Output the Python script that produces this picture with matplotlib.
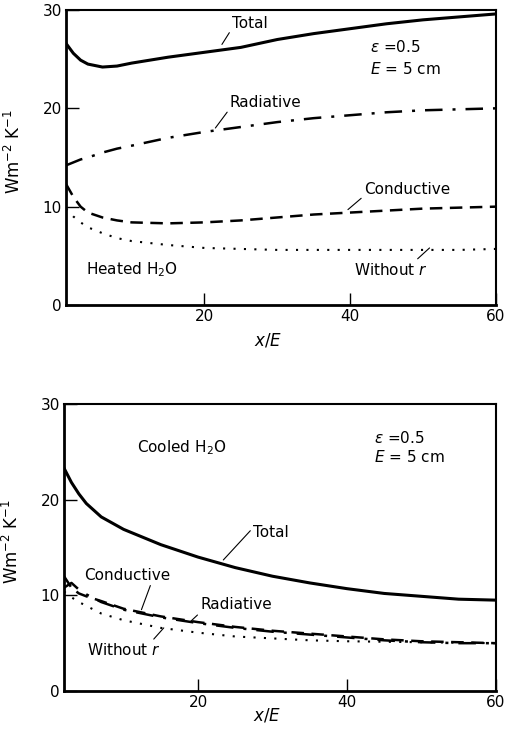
import numpy as np
import matplotlib
matplotlib.use("Agg")
import matplotlib.pyplot as plt

plt.rcParams['font.family'] = ['DejaVu Sans']
plt.rcParams['mathtext.fontset'] = 'dejavusans'

# heated water, x/E vs heat transfer coefficient
hx = [1, 2, 3, 4, 6, 8, 10, 15, 20, 25, 30, 35, 40, 45, 50, 55, 60]
h_total = [26.6, 25.6, 24.9, 24.5, 24.2, 24.3, 24.6, 25.2, 25.7, 26.2, 27.0, 27.6, 28.1, 28.6, 29.0, 29.3, 29.6]
h_rad = [14.2, 14.5, 14.8, 15.0, 15.5, 15.9, 16.2, 17.0, 17.6, 18.1, 18.6, 19.0, 19.3, 19.6, 19.8, 19.9, 20.0]
h_cond = [12.3, 11.0, 10.0, 9.4, 8.9, 8.6, 8.4, 8.3, 8.4, 8.6, 8.9, 9.2, 9.4, 9.6, 9.8, 9.9, 10.0]
h_nor = [9.8, 9.0, 8.4, 7.9, 7.3, 6.8, 6.5, 6.1, 5.8, 5.7, 5.6, 5.6, 5.6, 5.6, 5.6, 5.6, 5.7]

# cooled water
cx = [2, 3, 4, 5, 7, 10, 15, 20, 25, 30, 35, 40, 45, 50, 55, 60]
c_total = [23.3, 21.8, 20.6, 19.6, 18.2, 16.9, 15.3, 14.0, 12.9, 12.0, 11.3, 10.7, 10.2, 9.9, 9.6, 9.5]
c_cond = [12.0, 10.8, 10.2, 9.9, 9.4, 8.6, 7.8, 7.2, 6.7, 6.3, 6.0, 5.7, 5.4, 5.2, 5.1, 5.0]
c_rad = [10.8, 11.3, 10.6, 10.1, 9.3, 8.5, 7.7, 7.1, 6.6, 6.2, 5.9, 5.6, 5.3, 5.1, 5.0, 5.0]
c_nor = [10.4, 9.8, 9.3, 8.9, 8.1, 7.4, 6.6, 6.1, 5.7, 5.5, 5.3, 5.2, 5.15, 5.1, 5.05, 5.0]

yticks = [0, 10, 20, 30]
xticks = [20, 40, 60]

fig = plt.figure(figsize=(5.08, 7.31), dpi=100)
ax1 = fig.add_axes([0.130, 0.5828, 0.846, 0.4035])
ax2 = fig.add_axes([0.126, 0.0547, 0.850, 0.3926])

dash = (0, (5, 3))
dashdot = (0, (7, 4, 1.2, 4))
dot = (0, (1, 4))

ax1.plot(hx, h_total, color='k', lw=2.2, ls='-')
ax1.plot(hx, h_rad, color='k', lw=1.8, ls=dashdot)
ax1.plot(hx, h_cond, color='k', lw=1.8, ls=dash)
ax1.plot(hx, h_nor, color='k', lw=1.5, ls=dot)

ax2.plot(cx, c_total, color='k', lw=2.2, ls='-')
ax2.plot(cx, c_cond, color='k', lw=1.8, ls=dash)
ax2.plot(cx, c_rad, color='k', lw=1.8, ls=dashdot)
ax2.plot(cx, c_nor, color='k', lw=1.5, ls=dot)

for ax, x0, xl_y in ((ax1, 1, -0.09), (ax2, 2, -0.055)):
    ax.set_xlim(x0, 60)
    ax.set_ylim(0, 30)
    ax.set_yticks(yticks)
    ax.set_xticks(xticks)
    ax.tick_params(direction='in', length=9, width=1, labelsize=11, pad=3)
    for s in ('left', 'bottom'):
        ax.spines[s].set_linewidth(2)
    for s in ('top', 'right'):
        ax.spines[s].set_linewidth(1.5)
    ax.set_xlabel('$x/E$', fontsize=12)
    ax.xaxis.set_label_coords(0.47, xl_y)
    ax.set_ylabel('Wm$^{-2}$ K$^{-1}$', fontsize=12)
    ax.yaxis.set_label_coords(-0.097, 0.52)

fs = 11
lw = 0.8

def label(ax, text, xy, xytext, rel=(0, 0)):
    ax.annotate(text, xy=xy, xytext=xytext, fontsize=fs, va='center', ha='left',
                arrowprops=dict(arrowstyle='-', lw=lw, color='k', shrinkA=0, shrinkB=0,
                                relpos=rel))

label(ax1, 'Total', (22.4, 26.5), (23.8, 28.6), (0, 0.2))
label(ax1, 'Radiative', (21.5, 18.0), (23.5, 20.6), (0, 0.1))
label(ax1, 'Conductive', (39.7, 9.7), (41.9, 11.7), (0, 0.1))
label(ax1, 'Without $r$', (50.9, 5.8), (40.5, 3.6), (0.8, 0.9))
ax1.text(3.8, 3.6, 'Heated H$_2$O', fontsize=fs, va='center')
ax1.text(42.7, 26.2, '$\\epsilon$ =0.5', fontsize=fs, va='center')
ax1.text(42.7, 24.0, '$E$ = 5 cm', fontsize=fs, va='center')

label(ax2, 'Total', (23.4, 13.7), (27.4, 16.6), (0, 0.8))
label(ax2, 'Conductive', (12.4, 8.5), (4.7, 12.1), (0.78, 0.0))
label(ax2, 'Radiative', (18.9, 7.2), (20.3, 9.0), (0, 0.0))
label(ax2, 'Without $r$', (15.4, 6.6), (5.1, 4.3), (0.85, 0.9))
ax2.text(11.8, 25.4, 'Cooled H$_2$O', fontsize=fs, va='center')
ax2.text(43.7, 26.5, '$\\epsilon$ =0.5', fontsize=fs, va='center')
ax2.text(43.7, 24.5, '$E$ = 5 cm', fontsize=fs, va='center')

fig.savefig('out.png', dpi=100)
